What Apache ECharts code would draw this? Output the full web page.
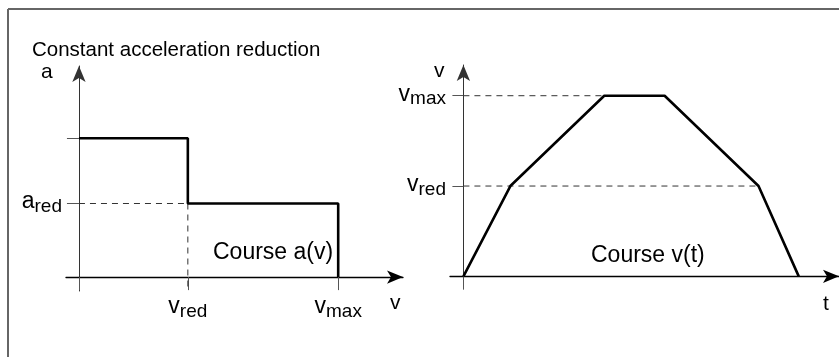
<!DOCTYPE html>
<html><head><meta charset="utf-8">
<script src="https://cdn.jsdelivr.net/npm/echarts@6/dist/echarts.min.js"></script>
<style>html,body{margin:0;padding:0;background:#fff}#c{width:839px;height:357px}</style>
</head><body><div id="c"></div>
<script>
// ---- Left chart: acceleration a over velocity v ----
const stepV = [0, 42, 42, 100, 100];
const stepA = [100, 100, 53, 53, 0];
const A_RED = 53, A_MAX = 100;
const V_RED_L = 42, V_MAX_L = 100;
// ---- Right chart: velocity v over time t ----
const timeT = [0, 14, 42, 60, 88, 100];
const speedV = [0, 50, 100, 100, 50, 0];
const V_RED_R = 50, V_MAX_R = 100;
const T_MAX_UP = 42, T_RED_DOWN = 88;
// ---- Texts ----
const titleText = 'Constant acceleration reduction';
const leftCourse = 'Course a(v)';
const rightCourse = 'Course v(t)';

const FONT = 'Liberation Sans, Arial, Helvetica, sans-serif';
const rich = {
  m: {fontSize: 23, fontFamily: FONT, color: '#000', verticalAlign: 'top', lineHeight: 26},
  s: {fontSize: 19, fontFamily: FONT, color: '#000', verticalAlign: 'bottom', lineHeight: 26}
};
const sub = (b, s) => '{m|' + b + '}{s|' + s + '}';

const zip = (xs, ys) => xs.map((x, i) => [x, ys[i]]);
const dash = {color: '#333', width: 1, type: [6, 5]};

const axisLineBase = (color, width) => ({
  onZero: true,
  lineStyle: {color: color, width: width},
  symbol: ['none', 'arrow'],
  symbolSize: [10, 16]
});

const chart = echarts.init(document.getElementById('c'), null, {renderer: 'canvas'});
chart.setOption({
  animation: false,
  backgroundColor: '#fff',
  title: {
    text: titleText, left: 27, top: 35,
    textStyle: {fontFamily: FONT, fontSize: 20.5, fontWeight: 'normal', color: '#000'}
  },
  grid: [
    {left: 66, width: 337, top: 66, height: 225},
    {left: 450, width: 389, top: 65, height: 224}
  ],
  xAxis: [
    {
      type: 'value', gridIndex: 0, min: -5, max: 125,
      axisLine: axisLineBase('#000', 1.3),
      axisTick: {show: true, customValues: [0, V_RED_L, V_MAX_L], length: 13, lineStyle: {color: '#555', width: 1}},
      axisLabel: {
        customValues: [V_RED_L, V_MAX_L], margin: 4, rich: rich,
        formatter: v => v === V_RED_L ? sub('v', 'red') : sub('v', 'max')
      },
      splitLine: {show: false}
    },
    {
      type: 'value', gridIndex: 1, min: -4, max: 112,
      axisLine: axisLineBase('#000', 1.3),
      axisTick: {show: true, customValues: [0], length: 13, lineStyle: {color: '#555', width: 1}},
      axisLabel: {show: false},
      splitLine: {show: false}
    }
  ],
  yAxis: [
    {
      type: 'value', gridIndex: 0, min: -10, max: 152,
      axisLine: axisLineBase('#333', 1),
      axisTick: {show: true, customValues: [A_RED, A_MAX], length: 12, lineStyle: {color: '#555', width: 1}},
      axisLabel: {
        customValues: [A_RED], margin: 4, rich: rich,
        formatter: () => sub('a', 'red')
      },
      splitLine: {show: false}
    },
    {
      type: 'value', gridIndex: 1, min: -7, max: 117,
      axisLine: axisLineBase('#333', 1),
      axisTick: {show: true, customValues: [V_RED_R, V_MAX_R], length: 11, lineStyle: {color: '#555', width: 1}},
      axisLabel: {
        customValues: [V_RED_R, V_MAX_R], margin: 4, rich: rich,
        formatter: v => v === V_RED_R ? sub('v', 'red') : sub('v', 'max')
      },
      splitLine: {show: false}
    }
  ],
  series: [
    {type: 'line', xAxisIndex: 0, yAxisIndex: 0, symbol: 'none', silent: true, lineStyle: dash,
     data: [[0, A_RED], [V_RED_L, A_RED]]},
    {type: 'line', xAxisIndex: 0, yAxisIndex: 0, symbol: 'none', silent: true, lineStyle: dash,
     data: [[V_RED_L, A_RED], [V_RED_L, -10]]},
    {type: 'line', xAxisIndex: 0, yAxisIndex: 0, symbol: 'none', silent: true,
     lineStyle: {color: '#000', width: 2.6}, data: zip(stepV, stepA)},
    {type: 'line', xAxisIndex: 1, yAxisIndex: 1, symbol: 'none', silent: true, lineStyle: dash,
     data: [[0, V_MAX_R], [T_MAX_UP, V_MAX_R]]},
    {type: 'line', xAxisIndex: 1, yAxisIndex: 1, symbol: 'none', silent: true, lineStyle: dash,
     data: [[0, V_RED_R], [T_RED_DOWN, V_RED_R]]},
    {type: 'line', xAxisIndex: 1, yAxisIndex: 1, symbol: 'none', silent: true,
     lineStyle: {color: '#000', width: 2.6}, data: zip(timeT, speedV)}
  ],
  graphic: [
    {type: 'line', shape: {x1: 8, y1: 9, x2: 839, y2: 9}, style: {stroke: '#666', lineWidth: 2}},
    {type: 'line', shape: {x1: 8, y1: 9, x2: 8, y2: 357}, style: {stroke: '#666', lineWidth: 2}},
    {type: 'text', left: 41, top: 62, style: {text: 'a', fontSize: 21, fontFamily: FONT, fill: '#000'}},
    {type: 'text', left: 434, top: 61, style: {text: 'v', fontSize: 21, fontFamily: FONT, fill: '#000'}},
    {type: 'text', left: 390, top: 293, style: {text: 'v', fontSize: 21, fontFamily: FONT, fill: '#000'}},
    {type: 'text', left: 823, top: 294, style: {text: 't', fontSize: 21, fontFamily: FONT, fill: '#000'}},
    {type: 'text', left: 213, top: 241, style: {text: leftCourse, fontSize: 23, fontFamily: FONT, fill: '#000'}},
    {type: 'text', left: 591, top: 244, style: {text: rightCourse, fontSize: 23, fontFamily: FONT, fill: '#000'}}
  ]
});
</script></body></html>
